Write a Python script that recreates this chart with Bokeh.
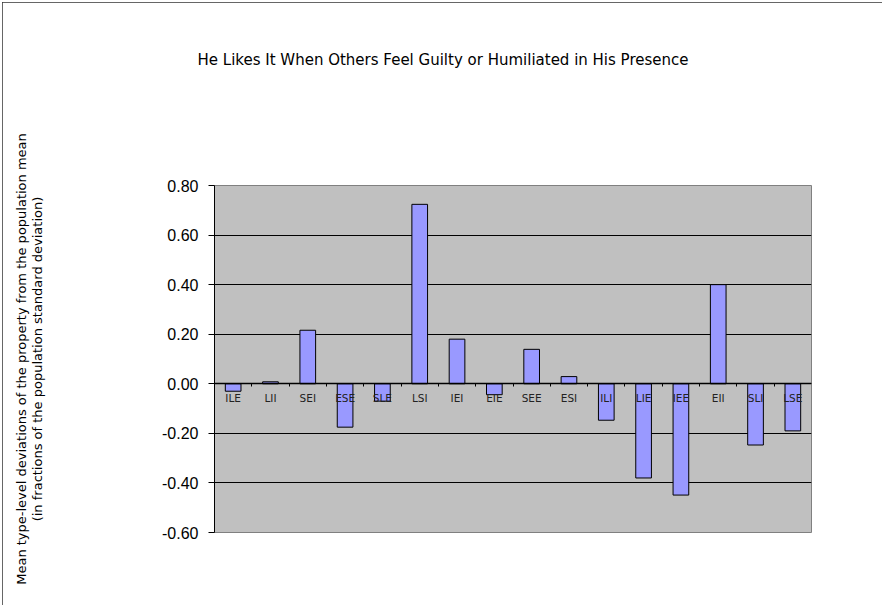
from bokeh.plotting import figure
from bokeh.models import Range1d, FixedTicker, LinearAxis, PrintfTickFormatter, Title, ColumnDataSource
from bokeh.embed import file_html
from bokeh.resources import INLINE

categories = ["ILE", "LII", "SEI", "ESE", "SLE", "LSI", "IEI", "EIE",
              "SEE", "ESI", "ILI", "LIE", "IEE", "EII", "SLI", "LSE"]
values = [-0.03, 0.008, 0.216, -0.175, -0.07, 0.724, 0.18, -0.044,
          0.139, 0.029, -0.147, -0.38, -0.449, 0.40, -0.247, -0.19]
y_ticks = [-0.6, -0.4, -0.2, 0.0, 0.2, 0.4, 0.6, 0.8]
title_text = "He Likes It When Others Feel Guilty or Humiliated in His Presence"
ylabel_1 = "Mean type-level deviations of the property from the population mean"
ylabel_2 = "(in fractions of the population standard deviation)"

n = len(categories)
centers = [i + 0.5 for i in range(n)]

W, H = 880, 603
p = figure(width=W, height=H, x_range=Range1d(0, n), y_range=Range1d(-0.6, 0.8),
           output_backend="svg", toolbar_location=None, x_axis_location=None,
           y_axis_location=None,
           min_border_left=212, min_border_right=71, min_border_top=183, min_border_bottom=73)
p.styles = {"margin": "2px 0 0 2px", "outline": "1.5px solid #333333", "outline-offset": "-1px"}

p.background_fill_color = "#C0C0C0"
p.border_fill_color = "white"
p.outline_line_color = "#808080"
p.outline_line_width = 1

src = ColumnDataSource(dict(x=centers, val=values, cat=categories))
p.vbar(x="x", top="val", bottom=0, width=0.42, source=src,
       fill_color="#9999FF", line_color="black", line_width=1)

# y axis
yax = LinearAxis(ticker=FixedTicker(ticks=y_ticks), formatter=PrintfTickFormatter(format="%.2f"))
yax.axis_line_color = "black"
yax.major_tick_out = 6
yax.major_tick_in = 0
yax.major_tick_line_color = "black"
yax.minor_tick_line_color = None
yax.major_label_text_font = "Liberation Sans"
yax.major_label_text_font_size = "16px"
yax.major_label_text_color = "black"
yax.major_label_standoff = 10
yax.axis_label = ylabel_1 + "\n" + ylabel_2
yax.axis_label_text_font = "DejaVu Sans"
yax.axis_label_text_font_size = "13px"
yax.axis_label_text_font_style = "normal"
yax.axis_label_text_color = "black"
yax.axis_label_text_line_height = 1.1
yax.axis_label_text_align = "center"
yax.axis_label_standoff = 114
p.add_layout(yax, "left")

p.ygrid.ticker = FixedTicker(ticks=y_ticks)
p.ygrid.grid_line_color = "black"
p.ygrid.grid_line_width = 1
p.xgrid.grid_line_color = None

# category axis at zero
xax = LinearAxis(fixed_location=0, ticker=FixedTicker(ticks=centers),
                 major_label_overrides={c: lab for c, lab in zip(centers, categories)})
xax.axis_line_color = "black"
xax.axis_line_width = 1.5
xax.major_tick_line_color = None
xax.minor_tick_line_color = None
xax.major_label_text_font = "DejaVu Sans"
xax.major_label_text_font_size = "10.5px"
xax.major_label_text_color = "#222222"
xax.major_label_standoff = 2
p.add_layout(xax, "below")

# boundary ticks on zero line
tax = LinearAxis(fixed_location=0, ticker=FixedTicker(ticks=list(range(1, n))))
tax.axis_line_color = None
tax.major_tick_out = 3
tax.major_tick_in = 0
tax.major_tick_line_color = "black"
tax.minor_tick_line_color = None
tax.major_label_text_alpha = 0
tax.major_label_text_font_size = "1px"
p.add_layout(tax, "below")

# spacer between frame and title, then the title
p.add_layout(Title(text=" ", text_font_size="1px", standoff=114), "above")
p.add_layout(Title(text=title_text, align="left", text_font="DejaVu Sans",
                   text_font_size="15px", text_font_style="normal", text_color="black",
                   offset=-17, standoff=0), "above")

open("out.html", "w").write(file_html(p, INLINE))
